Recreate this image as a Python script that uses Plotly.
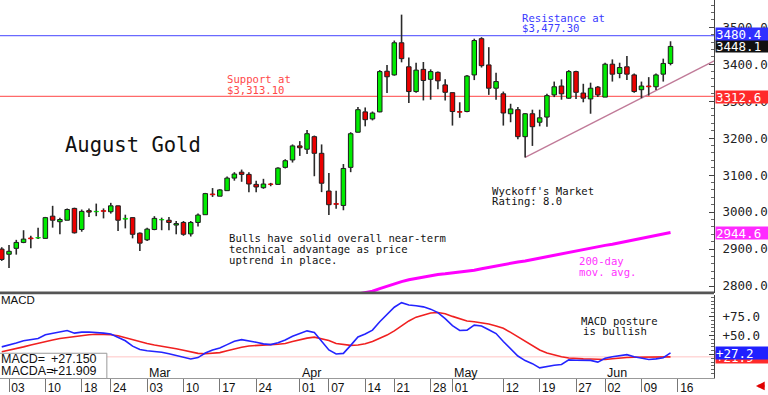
import plotly.graph_objects as go

# ---------------- data ----------------
idx = list(range(-1, 92))  # trading-day index, 0 = Feb 03
opens = [2900, 2886, 2902, 2918, 2930, 2930, 2929, 2989, 2974, 2978,
         3010, 2953, 3004, 3001, 3004, 3001, 3017, 2981, 2985, 2943,
         2925, 2953, 2979, 2978, 2965, 2972, 2941, 2972, 2993, 3049,
         3043, 3058, 3092, 3108, 3102, 3075, 3066, 3076, 3075, 3121,
         3141, 3179, 3170, 3204, 3159, 3057, 3023, 3018, 3121, 3216,
         3271, 3252, 3271, 3381, 3371, 3458, 3393, 3326, 3386, 3359,
         3378, 3344, 3323, 3272, 3272, 3371, 3469, 3398, 3335, 3320,
         3266, 3277, 3204, 3266, 3243, 3257, 3317, 3341, 3308, 3380,
         3322, 3306, 3338, 3311, 3400, 3375, 3393, 3371, 3331, 3341,
         3339, 3373, 3402]
highs = [2905, 2911, 2925, 2951, 2936, 2958, 2987, 3017, 2985, 3010,
         3012, 3007, 3010, 3023, 3010, 3025, 3018, 2993, 2986, 2945,
         2958, 2989, 2985, 2987, 2976, 2976, 2976, 2996, 3052, 3065,
         3062, 3096, 3108, 3115, 3108, 3085, 3090, 3079, 3121, 3143,
         3183, 3192, 3222, 3207, 3183, 3106, 3058, 3130, 3216, 3284,
         3283, 3272, 3384, 3398, 3464, 3534, 3418, 3404, 3406, 3386,
         3380, 3359, 3323, 3297, 3371, 3469, 3473, 3446, 3377, 3326,
         3293, 3284, 3268, 3277, 3277, 3320, 3353, 3359, 3384, 3382,
         3347, 3350, 3341, 3404, 3413, 3404, 3422, 3375, 3353, 3365,
         3375, 3415, 3462]
lows = [2868, 2849, 2885, 2916, 2902, 2927, 2928, 2958, 2940, 2978,
        2942, 2947, 2987, 2989, 2983, 2996, 2949, 2956, 2929, 2895,
        2922, 2951, 2951, 2951, 2940, 2936, 2934, 2961, 2993, 3041,
        3043, 3058, 3085, 3082, 3054, 3054, 3063, 3070, 3074, 3118,
        3134, 3152, 3157, 3097, 3054, 2992, 3009, 3005, 3108, 3215,
        3232, 3248, 3270, 3322, 3369, 3405, 3295, 3323, 3302, 3304,
        3332, 3302, 3234, 3255, 3270, 3357, 3391, 3317, 3304, 3234,
        3243, 3197, 3148, 3179, 3232, 3231, 3311, 3304, 3306, 3306,
        3297, 3266, 3311, 3311, 3353, 3362, 3357, 3323, 3308, 3315,
        3330, 3353, 3397]
closes = [2872, 2894, 2918, 2927, 2928, 2931, 2985, 2978, 2980, 3007,
          2944, 3002, 3000, 3002, 3002, 3017, 2978, 2983, 2940, 2916,
          2954, 2983, 2980, 2972, 2969, 2940, 2972, 2992, 3050, 3047,
          3060, 3092, 3103, 3102, 3076, 3068, 3076, 3075, 3119, 3139,
          3179, 3174, 3212, 3159, 3078, 3020, 3021, 3118, 3212, 3277,
          3250, 3268, 3380, 3366, 3458, 3415, 3326, 3384, 3356, 3380,
          3355, 3324, 3272, 3270, 3368, 3464, 3396, 3335, 3353, 3268,
          3279, 3204, 3266, 3231, 3255, 3315, 3339, 3320, 3380, 3324,
          3308, 3335, 3317, 3400, 3373, 3391, 3373, 3326, 3341, 3339,
          3371, 3402, 3448.1]
macd = [35, 37, 40, 43, 44.5, 46, 51, 52.5, 55, 56.5,
        53, 54.3, 54.5, 54, 53, 52, 48, 43, 36, 31.5,
        30, 29, 28, 26, 24, 21, 19.2, 21, 27, 31,
        33.5, 38, 42.5, 44.5, 43.2, 41, 39, 38, 40.5, 44,
        49, 52, 56, 54, 42, 31, 25.7, 26.5, 37, 48,
        52, 57, 68, 77, 87, 93, 90, 89, 87.5, 84.5,
        80, 72, 63, 56.5, 57, 63.5, 62.5, 57.5, 52.5, 42,
        32, 23, 17, 13, 7.5, 9.5, 11, 12, 18, 17.5,
        17.3, 17.3, 15, 20, 22, 23.5, 24.8, 22, 20, 18.4,
        19.3, 20.8, 27.15]
signal = [28.5, 30.5, 33, 35, 37.5, 40, 42, 44, 46, 47.5,
          48.5, 50, 51, 51.5, 51.7, 51, 49.5, 47, 44, 41,
          39.5, 37.5, 36, 34, 32.5, 30.5, 28.5, 26.5, 26, 26.5,
          27.5, 30, 32.5, 34.5, 36.2, 36.5, 37.3, 38, 38.5, 39.5,
          42, 44.4, 46.5, 47.8, 46, 43.5, 39.5, 37.9, 37, 37.5,
          39, 42, 46, 50.5, 56, 63, 69, 74, 77, 79.5,
          80, 78.5, 75, 72, 69, 68, 67, 65, 62.5, 59.5,
          54, 48, 42, 36.6, 31, 27, 24, 22, 20.5, 19.7,
          19.3, 19.2, 18.8, 18.4, 19.5, 20.5, 21, 21.4, 21.4, 21.4,
          21.5, 21.6, 21.909]
ma_idx = list(range(46, 92))
ma200 = [2771, 2775, 2778, 2781, 2786, 2793, 2800, 2807, 2812, 2817,
         2821, 2825, 2828, 2831, 2833, 2835, 2837, 2840, 2843, 2847,
         2851, 2855, 2858, 2861, 2865, 2868, 2872, 2876, 2880, 2884,
         2888, 2892, 2896, 2900, 2904, 2907, 2910, 2913, 2917, 2920,
         2924, 2928, 2932, 2936, 2940, 2944.6]

tick_idx = [0, 5, 10, 14, 19, 24, 29, 34, 40, 44, 49, 53, 58, 61, 68, 73, 78, 82, 87, 92]
tick_text = ["03", "10", "18", "24", "03", "10", "17", "24", "01", "07",
             "14", "21", "28", "01", "12", "19", "27", "02", "09", "16"]
month_idx = [19, 40, 61, 82]
month_text = ["Mar", "Apr", "May", "Jun"]

resistance = 3477.30
support = 3313.10
trend_x = [71, 97]
trend_y = [3148, 3409]
res_box = 3480.4
sup_box = 3312.6
last_close = 3448.1
ma_last = 2944.6
macd_last = 27.150
macda_last = 21.909
price_ticks = [2800, 2900, 3000, 3100, 3200, 3300, 3400, 3500]
macd_ticks = [25, 50, 75]
macd_tick_text = ["+25.0", "+50.0", "+75.0"]

# ---------------- styling ----------------
W, H = 715.0, 382.0           # plot area in px (margins r=53, b=13)
MONO = "DejaVu Sans Mono"
SANS = "Liberation Sans"
GREEN, RED = "#00ec00", "#ea0000"
XR = [-1.24, 96.98]

def px(x):
    return x / W

def py(y):
    return (H - y) / H

fig = go.Figure()

# candle bodies
body_base = [min(o, c) for o, c in zip(opens, closes)]
body_h = [max(abs(c - o), 0.8) for o, c in zip(opens, closes)]
fill = [GREEN if c >= o else RED for o, c in zip(opens, closes)]
edge = [f if abs(c - o) < 4 else "#1a1a1a" for f, o, c in zip(fill, opens, closes)]
fig.add_trace(go.Bar(x=idx, y=body_h, base=body_base, width=0.62,
                     marker=dict(color=fill, line=dict(color=edge, width=1)),
                     xaxis="x", yaxis="y", hoverinfo="skip"))

# wicks (outside the bodies)
wx, wy = [], []
for i, o, h, l, c in zip(idx, opens, highs, lows, closes):
    top, bot = max(o, c), min(o, c)
    wx += [i, i, None, i, i, None]
    wy += [h, top, None, bot, l, None]
fig.add_trace(go.Scatter(x=wx, y=wy, mode="lines", line=dict(color="#2a2a2a", width=1.6),
                         xaxis="x", yaxis="y", hoverinfo="skip"))

# 200-day moving average
fig.add_trace(go.Scatter(x=ma_idx, y=ma200, mode="lines", line=dict(color="#ff00ff", width=3),
                         xaxis="x", yaxis="y", hoverinfo="skip"))

# MACD panel
fig.add_trace(go.Scatter(x=[XR[0], XR[1]], y=[macda_last, macda_last], mode="lines",
                         line=dict(color="#ffc4c4", width=1), xaxis="x2", yaxis="y2", hoverinfo="skip"))
fig.add_trace(go.Scatter(x=idx, y=signal, mode="lines", line=dict(color="#f02020", width=1.6),
                         xaxis="x2", yaxis="y2", hoverinfo="skip"))
fig.add_trace(go.Scatter(x=idx, y=macd, mode="lines", line=dict(color="#2424ff", width=1.6),
                         xaxis="x2", yaxis="y2", hoverinfo="skip"))

shapes = [
    dict(type="line", xref="x", yref="y", x0=XR[0], x1=XR[1], y0=resistance, y1=resistance,
         line=dict(color="#6a6aff", width=1.3), layer="below"),
    dict(type="line", xref="x", yref="y", x0=XR[0], x1=XR[1], y0=support, y1=support,
         line=dict(color="#ff6a6a", width=1.3), layer="below"),
    dict(type="line", xref="x", yref="y", x0=trend_x[0], x1=trend_x[1], y0=trend_y[0], y1=trend_y[1],
         line=dict(color="#c07a98", width=1.3), layer="below"),
    # panel separator
    dict(type="line", xref="paper", yref="paper", x0=0, x1=1, y0=py(296), y1=py(296),
         line=dict(color="#555555", width=2.6)),
    # MACD value box
    dict(type="rect", xref="paper", yref="paper", x0=-0.01, x1=px(107), y0=py(382.5), y1=py(357),
         fillcolor="white", line=dict(color="#999999", width=1), layer="above"),
]

ann = []

def txt(s, x, y, color="#111111", size=10.6, family=MONO, xanchor="left"):
    ann.append(dict(text=s, xref="paper", yref="paper", x=px(x), y=py(y), xanchor=xanchor,
                    yanchor="middle", showarrow=False, font=dict(family=family, size=size, color=color)))

txt("Resistance at", 521, 18, "#3a3aff")
txt("$3,477.30", 521, 28.5, "#3a3aff")
txt("Support at", 225, 79.7, "#ff4848")
txt("$3,313.10", 225, 90.5, "#ff4848")
txt("August Gold", 63, 147, "#111111", 20.5)
txt("Bulls have solid overall near-term", 227, 241)
txt("technical advantage as price", 227, 251.5)
txt("uptrend in place.", 227, 262.5)
txt("Wyckoff's Market", 491, 193)
txt("Rating: 8.0", 491, 203)
txt("200-day", 577.5, 264, "#ff33ff")
txt("mov. avg.", 577.5, 274.6, "#ff33ff")
txt("MACD posture", 579.5, 324)
txt("is bullish", 581.5, 334)
txt("MACD", -1, 303.5, "#111111", 11.5, SANS)
txt("MACD=", -1, 362.7, "#111111", 12.5, SANS)
txt("MACDA=", -1, 375, "#111111", 12.5, SANS)
txt("%+.3f" % macd_last, 99.5, 362.7, "#111111", 12.5, SANS, "right")
txt("%+.3f" % macda_last, 99.5, 375, "#111111", 12.5, SANS, "right")

for i, m in zip(month_idx, month_text):
    ann.append(dict(text=m, xref="x2", yref="paper", x=i, y=py(376.5), xanchor="left", yanchor="middle",
                    showarrow=False, font=dict(family=SANS, size=12.5, color="#111111")))

def tag(val, yref, text, bg):
    ann.append(dict(text=text, xref="paper", yref=yref, x=1.0, y=val, xanchor="left", yanchor="middle",
                    showarrow=False, bgcolor=bg, width=53, height=12, align="left", valign="middle",
                    borderpad=0, font=dict(family=MONO, size=12.5, color="white"), xshift=1))

def one_dec(v, sign=False):
    v = round(v + 1e-9, 1)
    return ("%+.1f" if sign else "%.1f") % v

tag(last_close, "y", one_dec(last_close), "#111111")
tag(res_box, "y", one_dec(res_box), "#3030ff")
tag(sup_box, "y", one_dec(sup_box), "#ff2a2a")
tag(ma_last, "y", one_dec(ma_last), "#ff2aff")
tag(macda_last, "y2", one_dec(macda_last, True), "#ff2a2a")
tag(macd_last, "y2", one_dec(macd_last, True), "#2020ff")

# little red arrow bottom-right
ann.append(dict(text="", xref="paper", yref="paper", x=px(757), y=py(390), ax=10, ay=0,
                showarrow=True, arrowhead=2, arrowsize=0.7, arrowwidth=2.5, arrowcolor="#e00000"))

axis_common = dict(showgrid=False, zeroline=False)
fig.update_layout(
    width=768, height=395,
    margin=dict(l=0, r=53, t=0, b=13),
    paper_bgcolor="white", plot_bgcolor="white",
    showlegend=False,
    xaxis=dict(domain=[0, 1], anchor="y", range=XR, showticklabels=False, ticks="",
               showline=False, matches="x2", **axis_common),
    xaxis2=dict(domain=[0, 1], anchor="y2", range=XR, tickmode="array", tickvals=tick_idx,
                ticktext=tick_text, ticks="outside", ticklen=13, tickcolor="#777777", tickwidth=1,
                ticklabelstandoff=-14, ticklabelshift=9, showline=True, linecolor="#999999",
                tickfont=dict(family=SANS, size=12, color="#111111"), **axis_common),
    yaxis=dict(domain=[py(296), 1], anchor="x", side="right", range=[2781.5, 3573.6],
               tickmode="array", tickvals=price_ticks, tickformat=".1f",
               ticks="inside", ticklen=5, tickcolor="#444444", showline=True, linecolor="#444444",
               minor=dict(ticks="inside", ticklen=3, dtick=20, tickcolor="#666666"),
               ticklabelstandoff=5, tickfont=dict(family=MONO, size=12.5, color="#222222"),
               **axis_common),
    yaxis2=dict(domain=[0, py(298)], anchor="x2", side="right", range=[-5.8, 103.2],
                tickmode="array", tickvals=macd_ticks, ticktext=macd_tick_text,
                ticks="inside", ticklen=5, tickcolor="#444444", showline=True, linecolor="#444444",
                minor=dict(ticks="inside", ticklen=3, dtick=5, tickcolor="#666666"),
                ticklabelstandoff=5, tickfont=dict(family=MONO, size=12.5, color="#222222"),
                **axis_common),
    shapes=shapes,
    annotations=ann,
)

fig.write_html("out.html")
